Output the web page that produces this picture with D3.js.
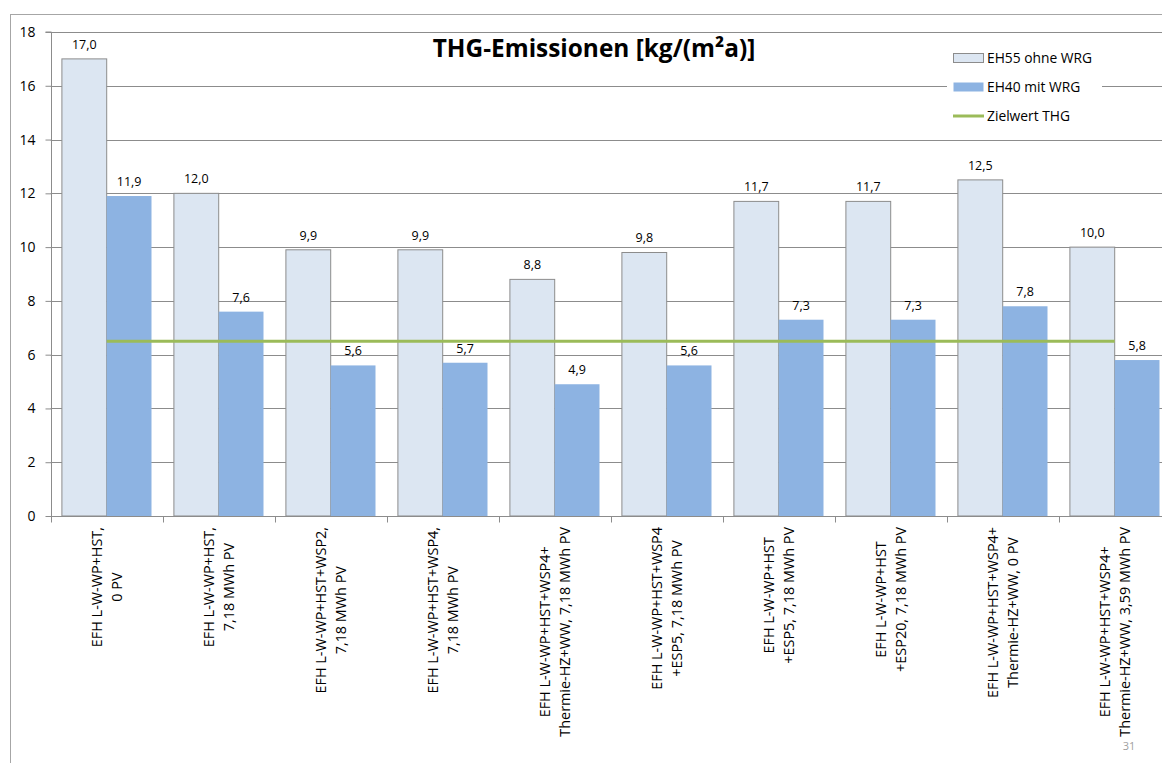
<!DOCTYPE html>
<html>
<head>
<meta charset="utf-8">
<script src="https://cdn.jsdelivr.net/npm/d3@7"></script>
<style>
  html, body { margin: 0; padding: 0; background: #ffffff; }
  svg { display: block; font-family: "Open Sans", Lato, sans-serif; }
</style>
</head>
<body>
<svg id="chart" width="1162" height="763"></svg>
<script>
// Scenario labels (two lines each)
const categories = [
  "EFH L-W-WP+HST,\n0 PV",
  "EFH L-W-WP+HST,\n7,18 MWh PV",
  "EFH L-W-WP+HST+WSP2,\n7,18 MWh PV",
  "EFH L-W-WP+HST+WSP4,\n7,18 MWh PV",
  "EFH L-W-WP+HST+WSP4+\nThermie-HZ+WW, 7,18 MWh PV",
  "EFH L-W-WP+HST+WSP4\n+ESP5, 7,18 MWh PV",
  "EFH L-W-WP+HST\n+ESP5, 7,18 MWh PV",
  "EFH L-W-WP+HST\n+ESP20, 7,18 MWh PV",
  "EFH L-W-WP+HST+WSP4+\nThermie-HZ+WW, 0 PV",
  "EFH L-W-WP+HST+WSP4+\nThermie-HZ+WW, 3,59 MWh PV"
];
const seriesNames = ["EH55 ohne WRG", "EH40 mit WRG"];
const eh55 = [17.0, 12.0, 9.9, 9.9, 8.8, 9.8, 11.7, 11.7, 12.5, 10.0];
const eh40 = [11.9, 7.6, 5.6, 5.7, 4.9, 5.6, 7.3, 7.3, 7.8, 5.8];
const targetName = "Zielwert THG";
const targetValue = 6.5;
const yTicks = [0, 2, 4, 6, 8, 10, 12, 14, 16, 18];
const title = "THG-Emissionen [kg/(m²a)]";
const pageNumber = "31";

const svg = d3.select("#chart");
const colors = { light: "#dce6f2", lightStroke: "#8c8c8c", blue: "#8db3e2", green: "#9bbb59", grid: "#8c8c8c" };

const plot = { left: 50.7, right: 50.7 + 112 * categories.length, top: 32, bottom: 516 };

// outer chart frame
svg.append("rect")
  .attr("x", 10.5).attr("y", 14.5)
  .attr("width", 1200).attr("height", 800)
  .attr("fill", "none").attr("stroke", "#a6a6a6").attr("stroke-width", 1);

const x = d3.scaleBand().domain(d3.range(categories.length))
  .range([plot.left, plot.right]).paddingInner(0).paddingOuter(0);
const inner = d3.scaleBand().domain([0, 1]).range([0, x.bandwidth()])
  .paddingInner(0).paddingOuter(0.25);
const y = d3.scaleLinear().domain([0, 18]).range([plot.bottom, plot.top]);

// horizontal gridlines
svg.append("g").selectAll("line").data(yTicks.filter(d => d > 0)).join("line")
  .attr("x1", plot.left).attr("x2", plot.right)
  .attr("y1", d => Math.round(y(d)) + 0.5).attr("y2", d => Math.round(y(d)) + 0.5)
  .attr("stroke", colors.grid).attr("stroke-width", 1);

// y axis
const yAxis = svg.append("g")
  .attr("transform", `translate(${Math.round(plot.left) + 0.5},0)`)
  .call(d3.axisLeft(y).tickValues(yTicks).tickSize(6).tickPadding(10).tickFormat(d3.format("d")));
yAxis.select(".domain").attr("stroke", colors.grid).attr("d", `M-6,${plot.top}H0V${plot.bottom}`);
yAxis.selectAll(".tick line").attr("stroke", colors.grid);
yAxis.selectAll(".tick text").attr("font-size", 14).attr("fill", "#000").attr("font-family", "'Open Sans', sans-serif");

// bars
const groups = svg.append("g").selectAll("g").data(categories.map((c, i) => i)).join("g")
  .attr("transform", i => `translate(${x(i)},0)`);

groups.append("rect")
  .attr("x", inner(0)).attr("width", inner.bandwidth())
  .attr("y", i => y(eh55[i])).attr("height", i => y(0) - y(eh55[i]))
  .attr("fill", colors.light).attr("stroke", colors.lightStroke).attr("stroke-width", 1);

groups.append("rect")
  .attr("x", inner(1)).attr("width", inner.bandwidth())
  .attr("y", i => y(eh40[i])).attr("height", i => y(0) - y(eh40[i]))
  .attr("fill", colors.blue);

// value labels
const fmt = v => d3.format(".1f")(v).replace(".", ",");
groups.append("text")
  .attr("x", inner(0) + inner.bandwidth() / 2).attr("y", i => y(eh55[i]) - 10)
  .attr("text-anchor", "middle").attr("font-size", 12.5).attr("fill", "#000")
  .text(i => fmt(eh55[i]));
groups.append("text")
  .attr("x", inner(1) + inner.bandwidth() / 2).attr("y", i => y(eh40[i]) - 10)
  .attr("text-anchor", "middle").attr("font-size", 12.5).attr("fill", "#000")
  .text(i => fmt(eh40[i]));

// x axis
const xAxisY = Math.round(plot.bottom) + 0.5;
svg.append("line").attr("x1", plot.left).attr("x2", plot.right)
  .attr("y1", xAxisY).attr("y2", xAxisY).attr("stroke", colors.grid);
svg.append("g").selectAll("line").data(d3.range(categories.length + 1)).join("line")
  .attr("x1", i => Math.round(plot.left + i * x.bandwidth()) + 0.5)
  .attr("x2", i => Math.round(plot.left + i * x.bandwidth()) + 0.5)
  .attr("y1", xAxisY).attr("y2", xAxisY + 6).attr("stroke", colors.grid);

// rotated category labels, lines centred on each other, top-aligned under the axis
const labelTop = 527;
groups.each(function (i) {
  const g = d3.select(this).append("g")
    .attr("transform", `translate(${x.bandwidth() / 2},${labelTop}) rotate(-90)`);
  const lines = categories[i].split("\n");
  const texts = lines.map((ln, k) => g.append("text")
    .attr("font-size", 14.4).attr("fill", "#000").attr("text-anchor", "middle")
    .attr("y", (k - (lines.length - 1) / 2) * 20 + 5)
    .text(ln));
  const w = d3.max(texts, t => t.node().getComputedTextLength());
  texts.forEach(t => t.attr("x", -w / 2));
});

// target line
svg.append("line")
  .attr("x1", x(0) + x.bandwidth() / 2).attr("x2", x(categories.length - 1) + x.bandwidth() / 2)
  .attr("y1", y(targetValue)).attr("y2", y(targetValue))
  .attr("stroke", colors.green).attr("stroke-width", 3);

// title
svg.append("text").attr("x", 594).attr("y", 57).attr("text-anchor", "middle")
  .attr("font-size", 24.4).attr("font-weight", "bold").attr("fill", "#000").text(title);

// legend
const legend = svg.append("g");
legend.append("rect").attr("x", 947).attr("y", 42).attr("width", 155).attr("height", 90).attr("fill", "#fff");
const legendRows = [
  { name: seriesNames[0], type: "bar", fill: colors.light, stroke: colors.lightStroke },
  { name: seriesNames[1], type: "bar", fill: colors.blue, stroke: "none" },
  { name: targetName, type: "line", fill: colors.green }
];
legendRows.forEach((r, k) => {
  const cy = 58 + k * 29;
  if (r.type === "bar") {
    legend.append("rect").attr("x", 953.5).attr("y", cy - 4.5).attr("width", 30).attr("height", 9)
      .attr("fill", r.fill).attr("stroke", r.stroke);
  } else {
    legend.append("line").attr("x1", 953).attr("x2", 984).attr("y1", cy).attr("y2", cy)
      .attr("stroke", r.fill).attr("stroke-width", 3);
  }
  legend.append("text").attr("x", 987).attr("y", cy + 5).attr("font-size", 13.8).attr("fill", "#000").text(r.name);
});

// page number
svg.append("text").attr("x", 1129).attr("y", 750).attr("text-anchor", "middle")
  .attr("font-size", 11).attr("fill", "#a0a0a0").text(pageNumber);
</script>
</body>
</html>
